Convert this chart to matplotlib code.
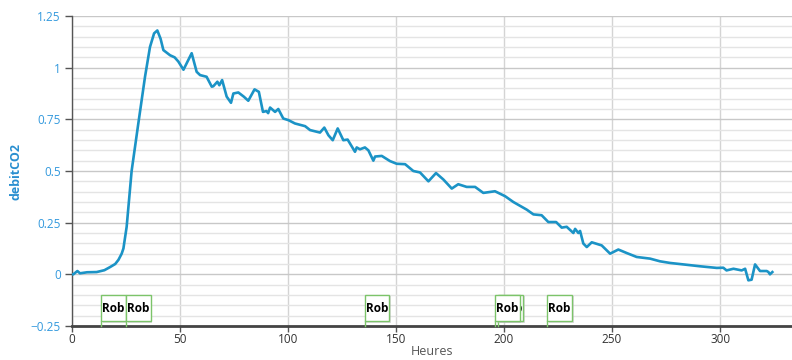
import matplotlib
matplotlib.use("Agg")
import matplotlib.pyplot as plt
from matplotlib.ticker import MultipleLocator
from matplotlib.patches import Rectangle

hours = [0, 0.6, 2.5, 3.7, 7, 11.4, 15, 17.6, 20, 21.5, 23, 23.8, 25.3, 27.6, 30.7, 33.8, 36.1, 38, 39.5,
         41, 42.3, 45.4, 47.5, 49.2, 51.6, 53.5, 55.4, 57.7, 59.3, 62.3, 64.7, 65.4, 67.3, 68.2, 69.5,
         71.6, 73.6, 74.7, 77, 79.5, 81.6, 84.5, 86.5, 88.4, 90, 90.8, 91.7, 94, 95.5, 97.8, 100.2,
         103.2, 107.9, 110.2, 114.8, 116.8, 118.7, 120.7, 123, 125.6, 127.6, 131, 131.8, 133.3, 135.6,
         137.2, 139.5, 140.3, 143.4, 147.2, 150.3, 154.2, 158, 161.1, 165, 168.5, 171.9, 175.8, 178.8,
         182.7, 186.6, 190.4, 195.8, 200.5, 204.3, 210.5, 213.6, 217.4, 220.5, 224.1, 226.7, 229,
         232.1, 232.9, 234.4, 235.2, 236.7, 238.3, 240.6, 245.2, 249.1, 252.9, 256.8, 261.4, 267.6,
         272.2, 276.9, 283, 290.7, 298.5, 301.5, 303, 306.2, 310, 311.6, 313.1, 314.6, 316.2, 318.5,
         321.6, 322.4, 323.1, 324.2]
debit_co2 = [0.0, 0.0, 0.016, 0.005, 0.01, 0.011, 0.02, 0.035, 0.05, 0.07, 0.1, 0.125, 0.23, 0.50, 0.73,
             0.956, 1.10, 1.166, 1.18, 1.14, 1.085, 1.06, 1.05, 1.03, 0.99, 1.03, 1.07, 0.98, 0.964,
             0.956, 0.908, 0.91, 0.932, 0.915, 0.94, 0.86, 0.83, 0.875, 0.88, 0.86, 0.84, 0.895, 0.883,
             0.786, 0.79, 0.78, 0.807, 0.786, 0.80, 0.754, 0.746, 0.73, 0.717, 0.698, 0.686, 0.71,
             0.673, 0.649, 0.706, 0.649, 0.652, 0.593, 0.614, 0.605, 0.614, 0.6, 0.55, 0.57, 0.573,
             0.548, 0.535, 0.533, 0.50, 0.493, 0.45, 0.49, 0.459, 0.415, 0.436, 0.423, 0.423, 0.394,
             0.402, 0.378, 0.35, 0.313, 0.29, 0.286, 0.253, 0.253, 0.226, 0.23, 0.2, 0.22, 0.2, 0.21,
             0.149, 0.132, 0.155, 0.14, 0.10, 0.12, 0.103, 0.084, 0.076, 0.063, 0.055, 0.048, 0.039,
             0.031, 0.032, 0.019, 0.027, 0.019, 0.027, -0.029, -0.026, 0.048, 0.016, 0.016, 0.011,
             0.0, 0.011]

# flags in drawing order (later ones on top)
flag_hours = [13.4, 25.0, 135.5, 197.4, 195.8, 220.0]
flag_labels = ["Rob", "Rob", "Rob", "Rob", "Rob", "Rob"]

x_ticks = [0, 50, 100, 150, 200, 250, 300]
y_ticks = [-0.25, 0, 0.25, 0.5, 0.75, 1, 1.25]
y_tick_labels = ["\u22120.25", "0", "0.25", "0.5", "0.75", "1", "1.25"]

plt.rcParams['font.family'] = ['Open Sans', 'DejaVu Sans']

fig = plt.figure(figsize=(7.92, 3.6), dpi=100)
ax = fig.add_axes([72 / 792, 34 / 360, 720 / 792, 310 / 360])

line_color = "#1b93c6"
ax.plot(hours, debit_co2, color=line_color, lw=1.9, solid_joinstyle="round", zorder=3)

ax.set_xlim(0, 333.3)
ax.set_ylim(-0.25, 1.25)
ax.set_xticks(x_ticks)
ax.set_yticks(y_ticks)
ax.set_yticklabels(y_tick_labels)
ax.yaxis.set_minor_locator(MultipleLocator(0.05))

ax.grid(True, which="major", axis="y", color="#c8c8c8", lw=1.0, zorder=0)
ax.grid(True, which="minor", axis="y", color="#e4e4e4", lw=1.0, zorder=0)
ax.grid(True, which="major", axis="x", color="#d4d4d4", lw=1.0, zorder=0)

for s in ["top", "right"]:
    ax.spines[s].set_visible(False)
ax.spines["left"].set_color("#555555")
ax.spines["left"].set_linewidth(1.0)
ax.spines["bottom"].set_color("#444444")
ax.spines["bottom"].set_linewidth(2.0)

ax.tick_params(axis="y", which="major", length=5, width=1, color="#555555",
               labelcolor="#3399dd", labelsize=8.5, pad=3)
ax.tick_params(axis="y", which="minor", length=0)
ax.tick_params(axis="x", which="major", length=4, width=1, color="#555555",
               labelcolor="#333333", labelsize=8.5, pad=1)

ax.set_ylabel("debitCO2", color="#2a8fd0", fontsize=9, fontweight="bold", labelpad=6)
ax.set_xlabel("Heures", color="#555555", fontsize=9, labelpad=-1)

# flags
box_w = 11.4
box_top = -0.098
box_bot = -0.228
for i, (fx, lab) in enumerate(zip(flag_hours, flag_labels)):
    z = 4 + i * 4
    ax.plot([fx, fx], [-0.25, box_bot], color="#7cc46a", lw=1.0, zorder=z, clip_on=False)
    ax.add_patch(Rectangle((fx + 0.8, box_bot - 0.006), box_w, box_top - box_bot,
                           facecolor="#bbbbbb", edgecolor="none", alpha=0.5, zorder=z))
    ax.add_patch(Rectangle((fx, box_bot), box_w, box_top - box_bot,
                           facecolor="white", edgecolor="#7cc46a", lw=1.0, zorder=z + 1))
    ax.text(fx + box_w / 2, (box_top + box_bot) / 2, lab, ha="center", va="center",
            fontsize=8.5, fontweight="bold", color="black", zorder=z + 2)

fig.savefig("out.png", dpi=100)
